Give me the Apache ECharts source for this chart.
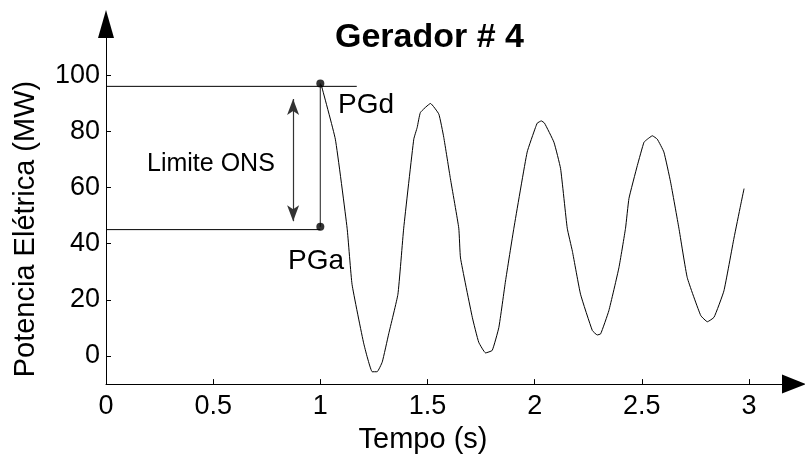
<!DOCTYPE html>
<html>
<head>
<meta charset="utf-8">
<script src="https://cdn.jsdelivr.net/npm/echarts@6/dist/echarts.min.js"></script>
<style>html,body{margin:0;padding:0;background:#fff}#chart{width:805px;height:459px}</style>
</head>
<body>
<div id="chart"></div>
<script>
// Curve: electrical power of generator #4 after the event (time s, MW)
var timeS = [1.004, 1.070, 1.125, 1.148, 1.203, 1.242, 1.265, 1.289, 1.319, 1.362, 1.389, 1.436, 1.452, 1.467, 1.514, 1.553, 1.576, 1.607, 1.646, 1.654, 1.709, 1.739, 1.771, 1.802, 1.833, 1.864, 1.903, 1.965, 2.004, 2.012, 2.031, 2.046, 2.090, 2.121, 2.152, 2.176, 2.214, 2.269, 2.292, 2.308, 2.346, 2.393, 2.424, 2.440, 2.479, 2.510, 2.526, 2.549, 2.572, 2.603, 2.634, 2.673, 2.712, 2.775, 2.806, 2.837, 2.883, 2.930, 2.961, 2.977];
var powerMW = [96.6, 77.2, 45.5, 25.5, 4.3, -5.6, -5.6, -2.1, 7.9, 22.0, 45.5, 77.2, 81.4, 86.7, 89.9, 86.1, 77.8, 63.1, 45.5, 34.9, 13.8, 4.9, 1.1, 2.0, 10.2, 26.7, 45.5, 72.6, 81.4, 82.9, 83.7, 82.9, 76.1, 66.7, 45.5, 37.3, 22.0, 9.1, 7.5, 7.9, 16.1, 31.4, 45.5, 56.1, 67.8, 76.1, 77.2, 78.4, 77.2, 72.6, 62.0, 45.5, 27.9, 14.4, 12.2, 13.8, 23.2, 42.0, 53.7, 59.6];

// Annotation values
var eventTime = 1.0;
var pgdValue = 97;        // PGd marker
var pgaValue = 46;        // PGa marker
var pgdLine = 96;         // horizontal reference at PGd
var pgaLine = 45;         // horizontal reference at PGa
var pgdLineEnd = 1.17;
var onsArrowT = 0.873;
var onsArrowFrom = 48;
var onsArrowTo = 91.5;

// Axis ticks
var xTicks = [0, 0.5, 1, 1.5, 2, 2.5, 3];
var yTicks = [0, 20, 40, 60, 80, 100];

var FONT = 'Liberation Sans';
var curve = timeS.map(function (t, i) { return [t, powerMW[i]]; });

var chart = echarts.init(document.getElementById('chart'), null, {renderer: 'canvas'});
chart.setOption({
  animation: false,
  backgroundColor: '#fff',
  title: {
    text: 'Gerador # 4',
    left: 335, top: 21, padding: 0,
    textStyle: {fontFamily: FONT, fontSize: 34, fontWeight: 'bold', color: '#000'}
  },
  grid: {left: 106, right: 11, top: 24, bottom: 71.6, containLabel: false},
  xAxis: {
    type: 'value', min: 0, max: 3.21,
    name: 'Tempo (s)', nameLocation: 'middle', nameGap: 38,
    nameTextStyle: {fontFamily: FONT, fontSize: 29, color: '#000', padding: [0, 54, 0, 0]},
    axisLine: {show: true, onZero: false, symbol: ['none', 'triangle'], symbolSize: [19, 24], lineStyle: {color: '#000', width: 1}},
    axisTick: {show: true, inside: true, length: 5, customValues: xTicks, lineStyle: {color: '#000'}},
    axisLabel: {customValues: xTicks, margin: 9, fontFamily: FONT, fontSize: 27, color: '#000'},
    splitLine: {show: false}
  },
  yAxis: {
    type: 'value', min: -10, max: 118.2,
    name: 'Potencia Elétrica (MW)', nameLocation: 'middle', nameGap: 66, nameRotate: 90,
    nameTextStyle: {fontFamily: FONT, fontSize: 29, color: '#000', padding: [0, 50, 0, 0]},
    axisLine: {show: true, onZero: false, symbol: ['none', 'triangle'], symbolSize: [16, 28], lineStyle: {color: '#000', width: 1}},
    axisTick: {show: true, inside: true, length: 5, customValues: yTicks, lineStyle: {color: '#000'}},
    axisLabel: {customValues: yTicks, margin: 6, fontFamily: FONT, fontSize: 27, color: '#000'},
    splitLine: {show: false}
  },
  series: [
    {
      type: 'line', data: curve, showSymbol: false, smooth: 0.12,
      lineStyle: {color: '#000', width: 1}, z: 3
    },
    {
      type: 'line', data: [[0, pgdLine], [pgdLineEnd, pgdLine]], showSymbol: false,
      lineStyle: {color: '#000', width: 1}
    },
    {
      type: 'line', data: [[0, pgaLine], [eventTime, pgaLine]], showSymbol: false,
      lineStyle: {color: '#000', width: 1}
    },
    {
      type: 'line', data: [[eventTime, pgaValue], [eventTime, pgdValue]], showSymbol: false,
      lineStyle: {color: '#444', width: 1.2},
      markLine: {
        silent: true, symbol: ['arrow', 'arrow'], symbolSize: [9, 16],
        label: {show: false},
        lineStyle: {color: '#333', width: 1.2, type: 'solid'},
        data: [[{coord: [onsArrowT, onsArrowFrom]}, {coord: [onsArrowT, onsArrowTo]}]]
      }
    },
    {
      type: 'scatter', data: [[eventTime, pgdValue], [eventTime, pgaValue]],
      symbol: 'circle', symbolSize: 8, itemStyle: {color: '#000'}, z: 5
    }
  ],
  graphic: [
    {type: 'text', x: 338, y: 105, style: {text: 'PGd', fontFamily: FONT, fontSize: 28, fill: '#000', verticalAlign: 'middle', align: 'left'}},
    {type: 'text', x: 288, y: 261, style: {text: 'PGa', fontFamily: FONT, fontSize: 28, fill: '#000', verticalAlign: 'middle', align: 'left'}},
    {type: 'text', x: 147, y: 164, style: {text: 'Limite ONS', fontFamily: FONT, fontSize: 25, fill: '#000', verticalAlign: 'middle', align: 'left'}}
  ]
});
</script>
</body>
</html>
